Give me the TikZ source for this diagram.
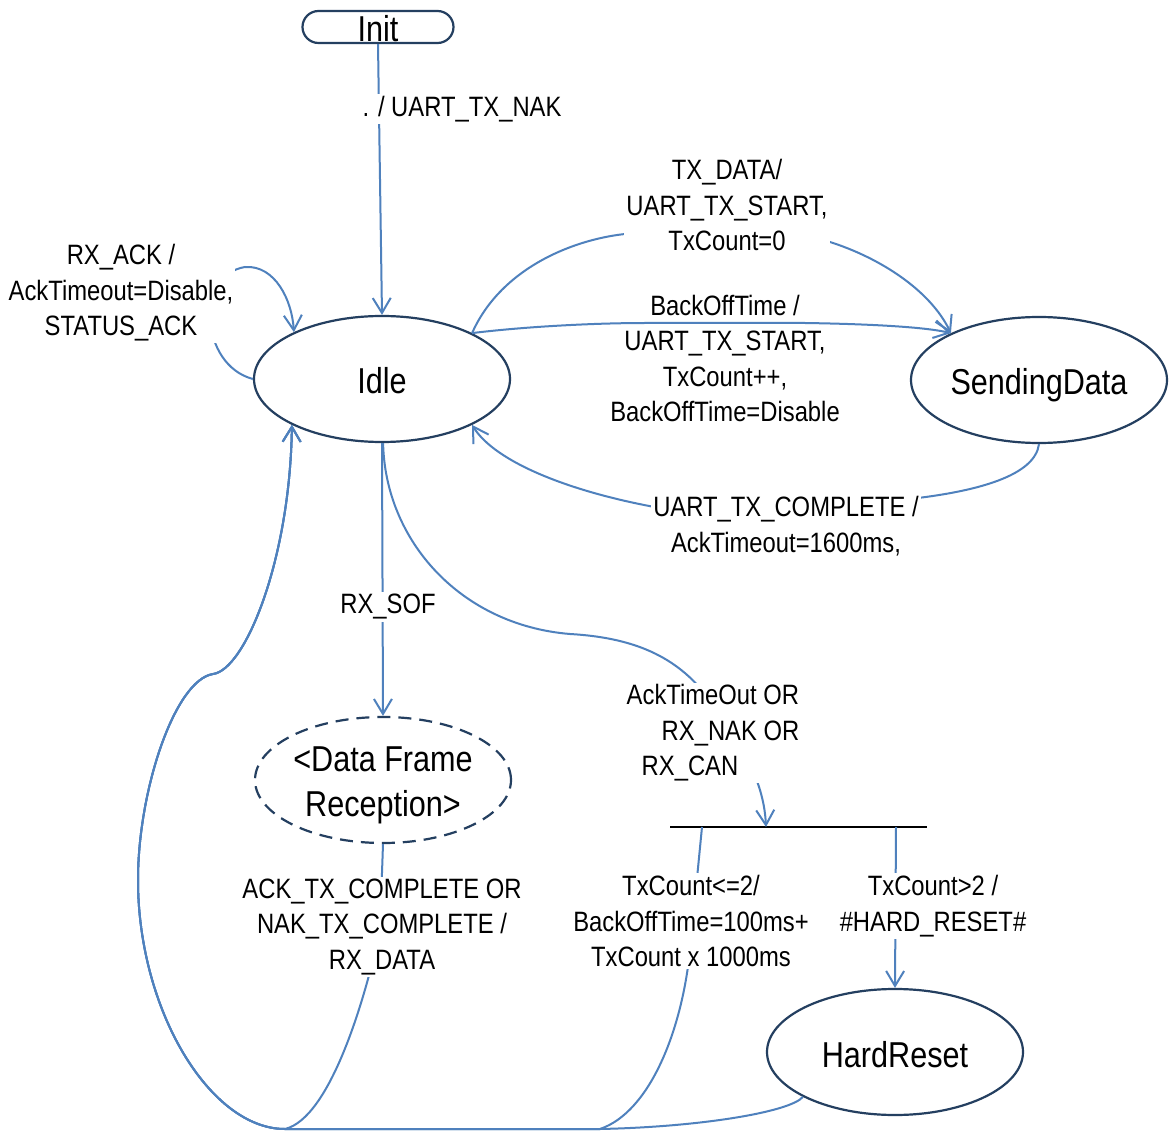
\documentclass[tikz,border=0pt]{standalone}
\usepackage{fontspec}
\setmainfont{Liberation Sans}[FakeStretch=0.85]
\usetikzlibrary{arrows.meta,shapes.geometric}
\definecolor{edgeblue}{RGB}{79,129,189}
\definecolor{statenavy}{RGB}{36,63,96}
\setlength{\fboxsep}{5pt}

\begin{document}
\begin{tikzpicture}[x=1pt,y=-1pt,
  state/.style={ellipse, draw=statenavy, line width=2.2pt,
    minimum width=256pt, minimum height=126pt, inner sep=0pt,
    font=\fontsize{36}{45}\selectfont, text height=30pt, text depth=0pt},
  substate/.style={ellipse, draw=statenavy, line width=2.2pt,
    dash pattern=on 13pt off 8pt,
    minimum width=256pt, minimum height=126pt, inner sep=0pt,
    align=center, font=\fontsize{36}{45}\selectfont},
  initbox/.style={rectangle, rounded corners=16pt, draw=statenavy,
    line width=2.2pt, minimum width=151pt, minimum height=32pt,
    inner sep=0pt, font=\fontsize{36}{45}\selectfont,
    text height=30pt, text depth=0pt},
  edge/.style={draw=edgeblue, line width=2pt,
    -{Straight Barb[length=15pt,width=18pt]}},
  junction/.style={draw=black, line width=2pt},
  lbl/.style={fill=white, inner sep=2pt, align=center,
    font=\fontsize{28}{35.5}\selectfont}
]
\useasboundingbox (0,0) rectangle (1173,1131);
\fill[white] (0,0) rectangle (1173,1131);

% states
\node[initbox] (init) at (378,27) {Init};
\node[state] (idle) at (382,379) {Idle};
\node[state] (send) at (1039,380) {SendingData};
\node[substate] (dfr) at (383,780) {\rule{0pt}{36pt}<Data Frame\\Reception>};
\node[state] (hard) at (895,1052) {HardReset};

% junction bar of the retry decision
\coordinate (barW) at (670,827);
\coordinate (barE) at (927,827);
\coordinate (barIn) at (766,827);
\coordinate (barLo) at (702,827);
\coordinate (barHi) at (896,827);
\draw[junction] (barW) -- (barE);

% points of the shared return path back to Idle
\coordinate (merge) at (285,1129);
\coordinate (floor) at (600,1129);

% transitions
\draw[edge] (init.south) -- (idle.north);
\draw[edge] (idle.west) .. controls (200,365) and (195,275) .. (245,267)
  .. controls (275,265) and (292,300) .. (idle.152);
\draw[edge] (idle.27) .. controls (500,270) and (570,240) .. (625,234)
  -- (830,242) .. controls (880,258) and (930,290) .. (send.152);
\draw[edge] (idle.27) .. controls (530,326) and (600,323) .. (645,323)
  -- (805,323) .. controls (870,324) and (925,327) .. (send.152);
\draw[edge] (send.south) .. controls (1035,475) and (980,492) .. (900,500)
  -- (660,508) .. controls (570,492) and (495,462) .. (idle.-27);
\draw[edge] (idle.south) -- (dfr.north);
\draw[edge] (idle.-89) .. controls (385,540) and (460,625) .. (570,634)
  .. controls (640,638) and (680,660) .. (710,700) -- (750,765)
  .. controls (760,785) and (765,805) .. (barIn);
\draw[edge] (dfr.south) -- (380,930) .. controls (365,1000) and (330,1118) .. (merge)
  .. controls (210,1129) and (138,1010) .. (138,880)
  .. controls (138,790) and (175,680) .. (213,674)
  .. controls (245,670) and (290,560) .. (idle.207);
\draw[edge] (barLo) -- (690,950) .. controls (682,1030) and (650,1112) .. (floor)
  -- (merge)
  .. controls (210,1129) and (138,1010) .. (138,880)
  .. controls (138,790) and (175,680) .. (213,674)
  .. controls (245,670) and (290,560) .. (idle.207);
\draw[edge] (hard.206) .. controls (790,1112) and (700,1127) .. (floor)
  -- (merge)
  .. controls (210,1129) and (138,1010) .. (138,880)
  .. controls (138,790) and (175,680) .. (213,674)
  .. controls (245,670) and (290,560) .. (idle.207);
\draw[edge] (barHi) -- (hard.north);

% transition labels
\node[lbl] (lInit) at (462,109) {. / UART\_TX\_NAK};
\node[lbl] (lAck) at (121,293) {RX\_ACK /\\AckTimeout=Disable,\\STATUS\_ACK};
\node[lbl] (lTx) at (727,205) {TX\_DATA/\\UART\_TX\_START,\\TxCount=0};
\node[lbl, fill=none] (lBo) at (725,356)
  {\colorbox{white}{BackOffTime /}\\UART\_TX\_START,\\TxCount++,\\BackOffTime=Disable};
\node[lbl] (lDone) at (786,526) {UART\_TX\_COMPLETE /\\AckTimeout=1600ms,};
\node[lbl] (lSof) at (388,607) {RX\_SOF};
\node[lbl, align=left] (lFail) at (713,733)
  {AckTimeOut OR\\\hspace*{35pt}RX\_NAK OR\\\hspace*{15pt}RX\_CAN};
\node[lbl] (lRx) at (382,927) {ACK\_TX\_COMPLETE OR\\NAK\_TX\_COMPLETE /\\RX\_DATA};
\node[lbl] (lRetry) at (691,921) {TxCount<=2/\\BackOffTime=100ms+\\TxCount x 1000ms};
\node[lbl] (lGive) at (933,906) {TxCount>2 /\\\#HARD\_RESET\#};
\end{tikzpicture}
\end{document}
